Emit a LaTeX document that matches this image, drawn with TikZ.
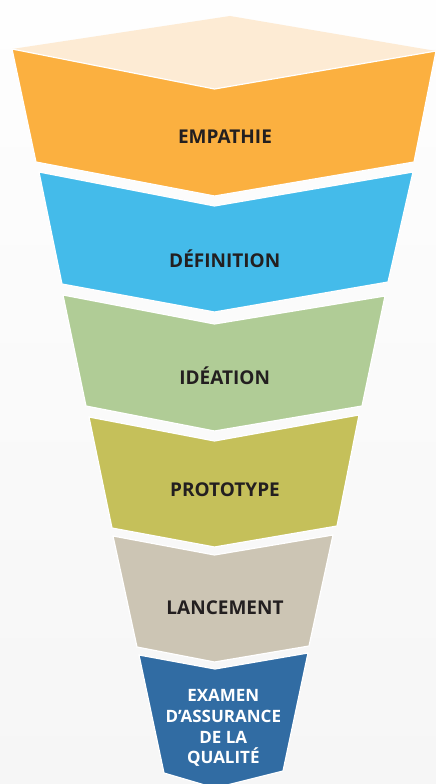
\documentclass[tikz,border=0pt]{standalone}
\usepackage{fontspec}
\setmainfont{Open Sans}
\definecolor{bgtop}{HTML}{FEFEFE}
\definecolor{bgbot}{HTML}{F6F6F6}
\definecolor{creamC}{HTML}{FDEBD4}
\definecolor{orangeC}{HTML}{FBB040}
\definecolor{blueC}{HTML}{44BBEA}
\definecolor{greenC}{HTML}{B0CC96}
\definecolor{oliveC}{HTML}{C5C05A}
\definecolor{beigeC}{HTML}{CCC5B4}
\definecolor{navyC}{HTML}{316CA3}
\definecolor{txtC}{HTML}{231F20}
\tikzset{
  band/.style={draw=white, line width=1.2pt, line join=miter},
  lbl/.style={font=\fontsize{19}{23}\selectfont\bfseries, text=txtC, inner sep=0pt, anchor=base},
  lblw/.style={font=\fontsize{17}{20.8}\selectfont\bfseries, text=white, inner sep=0pt, align=center},
}
\begin{document}
\begin{tikzpicture}[x=1pt,y=-1pt]
\useasboundingbox (0,0) rectangle (436,784);
\shade[top color=bgtop, bottom color=bgbot] (0,0) rectangle (436,784);
\begin{scope}
\clip (0,0) rectangle (436,784);
% top face
\path[fill=creamC] (12,49) -- (230,16) -- (436,51) -- (214.5,89) -- cycle;
% orange
\path[band, fill=orangeC] (12,49) -- (214.5,89) -- (436,51) -- (414,162) -- (214.5,196) -- (36,162) -- cycle;
% blue
\path[band, fill=blueC] (39,172) -- (214.5,206) -- (413,172) -- (388,282) -- (214.5,312) -- (62,284) -- cycle;
% green
\path[band, fill=greenC] (63,295) -- (214.5,324) -- (385,296) -- (362,406) -- (214.5,431) -- (86,406) -- cycle;
% olive
\path[band, fill=oliveC] (89,417) -- (214.5,441) -- (359,415) -- (337,526) -- (214.5,547) -- (112,528) -- cycle;
% beige
\path[band, fill=beigeC] (113,536) -- (214.5,555) -- (333,535) -- (309,646) -- (214.5,662) -- (137,647) -- cycle;
% navy
\path[band, fill=navyC] (139,655) -- (215,669) -- (308,653) -- (283,771) -- (215,788) -- (164,773) -- cycle;
\end{scope}
\node[lbl] (emp) at (225,143.5) {EMPATHIE};
\node[lbl] (def) at (224.7,267) {DÉFINITION};
\node[lbl] (ide) at (224.7,384.7) {IDÉATION};
\node[lbl] (pro) at (225,496.5) {PROTOTYPE};
\node[lbl] (lan) at (225,614.8) {LANCEMENT};
\node[lblw] (exa) at (223.3,728) {EXAMEN\\D’ASSURANCE\\DE LA\\QUALITÉ};
\end{tikzpicture}
\end{document}
